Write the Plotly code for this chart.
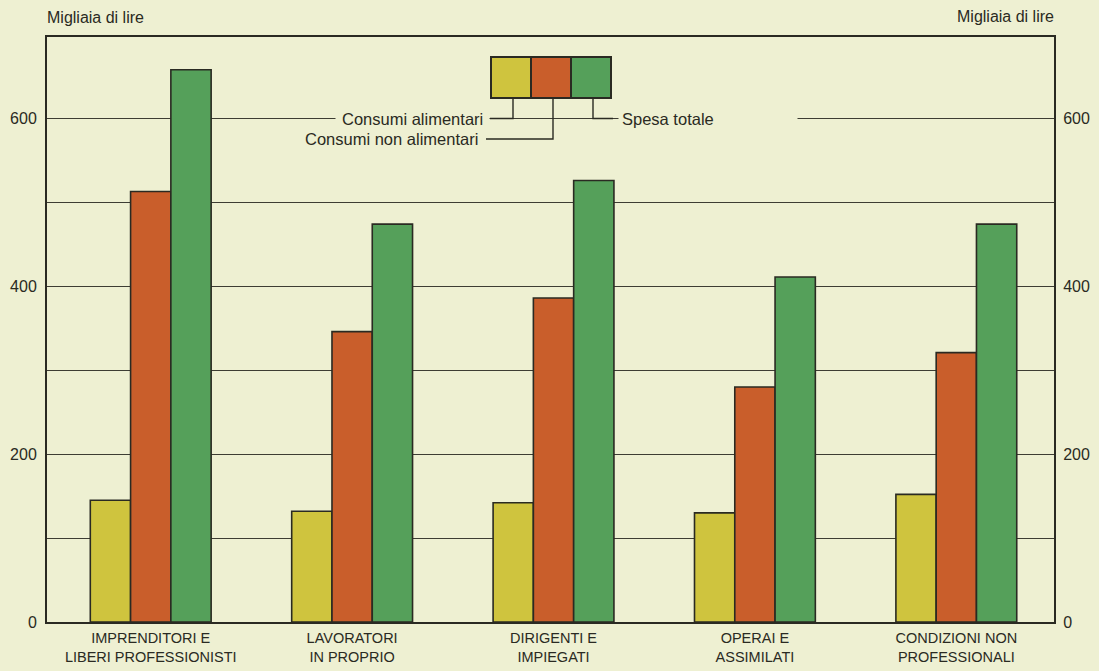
import plotly.graph_objects as go

categories = ["IMPRENDITORI E<br>LIBERI PROFESSIONISTI", "LAVORATORI<br>IN PROPRIO",
              "DIRIGENTI E<br>IMPIEGATI", "OPERAI E<br>ASSIMILATI", "CONDIZIONI NON<br>PROFESSIONALI"]
series_names = ["Consumi alimentari", "Consumi non alimentari", "Spesa totale"]
alimentari = [145, 132, 142, 130, 152]
non_alimentari = [513, 346, 386, 280, 321]
totale = [658, 474, 526, 411, 474]
tick_vals = [0, 100, 200, 300, 400, 500, 600]
tick_text = ["0", "", "200", "", "400", "", "600"]
axis_title = "Migliaia di lire"

colors = ["#cfc43e", "#c95e2b", "#55a05a"]
bg = "#eef0d2"
ink = "#2a2a22"
FONT = "Liberation Sans, Arial, sans-serif"

W, H = 1099, 671
ML, MR, MT, MB = 47, 45, 37, 49
YMAX = 697
PW = W - ML - MR
PH = H - MT - MB

def px(x):
    return (x - ML) / PW

def py(y):
    return (H - MB - y) / PH

def dy(y):
    return (H - MB - y) * YMAX / PH

fig = go.Figure()
for name, vals, c in zip(series_names, [alimentari, non_alimentari, totale], colors):
    fig.add_trace(go.Bar(x=categories, y=vals, name=name, marker=dict(color=c, line=dict(color=ink, width=1.6)),
                         showlegend=False))
fig.add_trace(go.Scatter(x=categories, y=totale, yaxis="y2", mode="markers", marker=dict(opacity=0),
                         showlegend=False, hoverinfo="skip"))

fig.update_layout(
    width=W, height=H, margin=dict(l=ML, r=MR, t=MT, b=MB, autoexpand=False),
    paper_bgcolor=bg, plot_bgcolor=bg,
    barmode="group", bargap=0.4, bargroupgap=0,
    font=dict(family=FONT, size=14, color=ink),
    xaxis=dict(range=[-0.515, 4.485], showline=True, mirror=True, linecolor=ink, linewidth=2, ticks="outside",
               ticklen=2, tickcolor="rgba(0,0,0,0)", tickfont=dict(size=14.5), showgrid=False,
               fixedrange=True, automargin=False),
    yaxis=dict(range=[0, YMAX], tickvals=tick_vals, ticktext=tick_text, showgrid=True, gridcolor="#3d3d33",
               gridwidth=1.4, showline=True, mirror=True, linecolor=ink, linewidth=2, zeroline=False,
               ticks="outside", ticklen=5, tickcolor="rgba(0,0,0,0)", tickfont=dict(size=16),
               automargin=False),
    yaxis2=dict(range=[0, YMAX], overlaying="y", side="right", tickvals=tick_vals, ticktext=tick_text,
                showgrid=False, zeroline=False, showline=False, ticks="outside", ticklen=5,
                tickcolor="rgba(0,0,0,0)", tickfont=dict(size=16), automargin=False),
)

# axis titles
fig.add_annotation(x=px(45), y=py(18), xref="paper", yref="paper", text=axis_title, showarrow=False,
                   xanchor="left", yanchor="middle", font=dict(size=16))
fig.add_annotation(x=px(1056), y=py(17), xref="paper", yref="paper", text=axis_title, showarrow=False,
                   xanchor="right", yanchor="middle", font=dict(size=16))

# legend boxes
box_x = [491, 531, 571, 611]
for i, c in enumerate(colors):
    fig.add_shape(type="rect", xref="paper", yref="y", x0=px(box_x[i]), x1=px(box_x[i + 1]),
                  y0=dy(98), y1=dy(57), fillcolor=c, line=dict(color=ink, width=2), layer="above")

line = dict(color=ink, width=1.4)
# stems and leaders
fig.add_shape(type="path", xref="paper", yref="y", layer="above", line=line,
              path=f"M {px(513)} {dy(98)} L {px(513)} {dy(118.5)} L {px(490)} {dy(118.5)}")
fig.add_shape(type="path", xref="paper", yref="y", layer="above", line=line,
              path=f"M {px(553)} {dy(98)} L {px(553)} {dy(139)} L {px(486)} {dy(139)}")
fig.add_shape(type="path", xref="paper", yref="y", layer="above", line=line,
              path=f"M {px(593)} {dy(98)} L {px(593)} {dy(118.5)} L {px(613)} {dy(118.5)}")

fig.add_annotation(x=px(490), y=dy(119), xref="paper", yref="y", text=series_names[0], showarrow=False,
                   xanchor="right", yanchor="middle", bgcolor=bg, borderpad=6, font=dict(size=16.5))
fig.add_annotation(x=px(482), y=dy(139), xref="paper", yref="y", text=series_names[1], showarrow=False,
                   xanchor="right", yanchor="middle", bgcolor=bg, borderpad=3, font=dict(size=16.5))
fig.add_annotation(x=px(618), y=dy(119), xref="paper", yref="y", text=series_names[2], showarrow=False,
                   xanchor="left", yanchor="middle", bgcolor=bg, borderpad=3, width=172, align="left",
                   font=dict(size=16.5))

fig.write_html("out.html", config={"displayModeBar": False})

with open("out.html", "r", encoding="utf-8") as f:
    html = f.read()
html = html.replace("<head>", "<head><style>html,body{margin:0;padding:0;background:%s;overflow:hidden}</style>" % bg, 1)
with open("out.html", "w", encoding="utf-8") as f:
    f.write(html)
